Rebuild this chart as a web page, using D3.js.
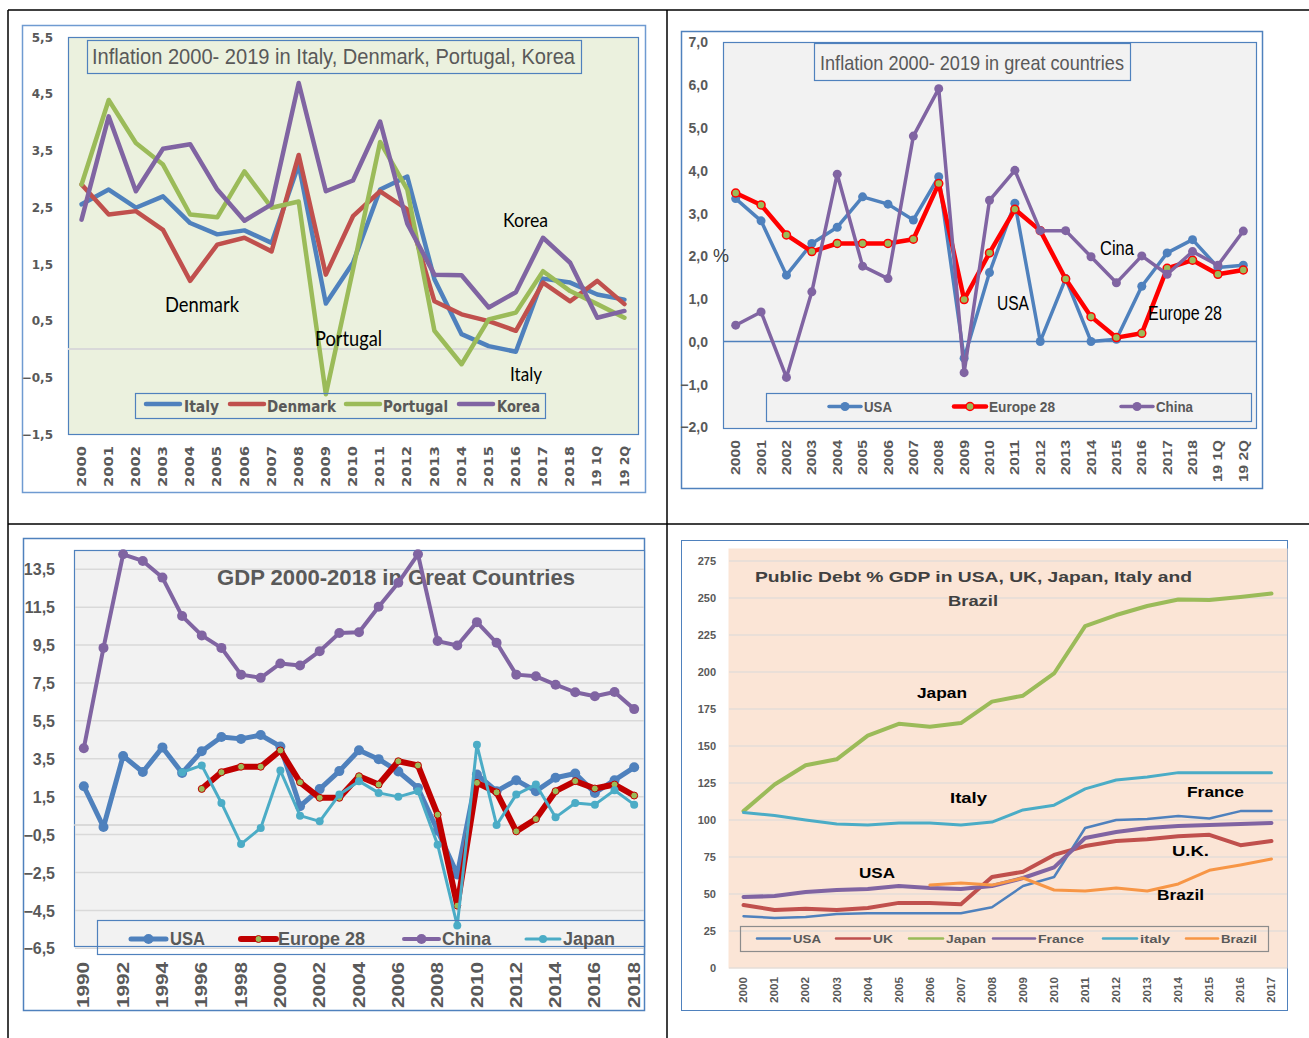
<!DOCTYPE html>
<html><head><meta charset="utf-8">
<script src="https://cdn.jsdelivr.net/npm/d3@7"></script>
<style>body{margin:0;background:#fff;}svg{display:block}</style>
</head><body>
<svg id="c" width="1309" height="1038"></svg>
<script>
// ---------- DATA ----------
// Panel 1: Inflation 2000-2019 Italy, Denmark, Portugal, Korea
const p1Categories = ["2000","2001","2002","2003","2004","2005","2006","2007","2008","2009","2010","2011","2012","2013","2014","2015","2016","2017","2018","19 1Q","19 2Q"];
const p1Italy    = [2.55,2.81,2.49,2.69,2.22,2.02,2.09,1.87,3.25,0.8,1.52,2.81,3.04,1.23,0.26,0.05,-0.05,1.24,1.17,0.96,0.87];
const p1Denmark  = [2.9,2.37,2.43,2.1,1.2,1.84,1.96,1.72,3.42,1.31,2.34,2.78,2.46,0.84,0.61,0.49,0.32,1.17,0.84,1.2,0.79];
const p1Portugal = [2.9,4.39,3.63,3.25,2.37,2.32,3.13,2.49,2.6,-0.8,1.4,3.65,2.81,0.32,-0.27,0.52,0.64,1.37,1.02,0.79,0.55];
const p1Korea    = [2.28,4.1,2.78,3.53,3.61,2.81,2.26,2.55,4.69,2.78,2.97,4.01,2.21,1.31,1.3,0.73,1.0,1.96,1.52,0.55,0.67];
const p1YTicks   = [5.5,4.5,3.5,2.5,1.5,0.5,-0.5,-1.5];

// Panel 2: Inflation 2000-2019 in great countries
const p2Categories = ["2000","2001","2002","2003","2004","2005","2006","2007","2008","2009","2010","2011","2012","2013","2014","2015","2016","2017","2018","19 1Q","19 2Q"];
const p2USA      = [3.34,2.82,1.55,2.29,2.67,3.38,3.21,2.84,3.85,-0.39,1.61,3.23,0.0,1.47,0.0,0.05,1.29,2.07,2.38,1.73,1.78];
const p2Europe28 = [3.47,3.19,2.49,2.1,2.29,2.29,2.29,2.39,3.69,0.98,2.07,3.09,2.59,1.46,0.58,0.09,0.19,1.71,1.9,1.57,1.67];
const p2China    = [0.38,0.69,-0.84,1.16,3.91,1.76,1.47,4.8,5.91,-0.73,3.3,4.0,2.59,2.59,1.98,1.37,2.0,1.57,2.1,1.78,2.58];
const p2YTicks   = [7,6,5,4,3,2,1,0,-1,-2];

// Panel 3: GDP growth 1990-2018
const p3Years = ["1990","1991","1992","1993","1994","1995","1996","1997","1998","1999","2000","2001","2002","2003","2004","2005","2006","2007","2008","2009","2010","2011","2012","2013","2014","2015","2016","2017","2018"];
const p3YearLabels = ["1990","1992","1994","1996","1998","2000","2002","2004","2006","2008","2010","2012","2014","2016","2018"];
const p3USA      = [2.05,-0.1,3.65,2.8,4.1,2.75,3.9,4.65,4.55,4.75,4.15,1.0,1.9,2.85,3.95,3.48,2.83,1.96,-0.3,-2.6,2.67,1.79,2.37,1.79,2.5,2.72,1.7,2.37,3.05];
const p3Europe28 = [null,null,null,null,null,null,1.91,2.79,3.08,3.08,3.94,2.26,1.44,1.44,2.58,2.14,3.37,3.15,0.55,-4.25,2.23,1.73,-0.33,0.32,1.79,2.32,1.93,2.14,1.56];
const p3China    = [4.06,9.35,14.29,13.94,13.06,11.03,10.01,9.35,7.94,7.77,8.53,8.42,9.18,10.14,10.18,11.52,12.79,14.29,9.71,9.48,10.71,9.62,7.94,7.85,7.41,7.01,6.8,7.02,6.12];
const p3Japan    = [null,null,null,null,null,2.79,3.15,1.17,-1.0,-0.15,2.88,0.5,0.2,1.61,2.32,1.7,1.49,1.79,-1.03,-5.3,4.24,0.0,1.61,2.14,0.41,1.17,1.08,1.84,1.08];
const p3YTicks   = [13.5,11.5,9.5,7.5,5.5,3.5,1.5,-0.5,-2.5,-4.5,-6.5];

// Panel 4: Public debt % GDP
const p4Years  = ["2000","2001","2002","2003","2004","2005","2006","2007","2008","2009","2010","2011","2012","2013","2014","2015","2016","2017"];
const p4USA    = [35,33.8,34.5,36.5,37,37,37,37,41,55.4,61.5,94.6,100,100.7,102.7,101,106,106];
const p4UK     = [42.6,39.2,40,39.2,40.5,44,44,43,61.5,65,76.4,82.4,85.8,87,89,90,83,85.8];
const p4Japan  = [106,124,137,141,157,165,163,165.5,180,184,199,231,238.5,244.6,249,248.6,250.7,253];
const p4France = [48,48.6,51.4,52.7,53.4,55.4,54,53.4,55.4,60.8,68,87.8,91.9,94.6,96,96.6,97.3,98];
const p4Italy  = [105,103,100,97.3,96.6,98,98,96.6,98.6,106.8,110,121,127,129,132,132,132,132];
const p4Brazil = [null,null,null,null,null,null,56,57.4,56,60.8,52.7,52,54,52,56.8,66,69.6,73.6];
const p4YTicks = [0,25,50,75,100,125,150,175,200,225,250,275];

// ---------- RENDER ----------
const svg = d3.select("#c");
const ARIAL = "'Liberation Sans', Arial, sans-serif";
const NARROW = "'Liberation Sans Narrow', 'Arial Narrow', 'Liberation Sans', sans-serif";
const HEAVY = "'DejaVu Sans', 'Liberation Sans', sans-serif";
const ROUND = "Lato, 'Noto Sans', sans-serif";
const GRAY = "#595959";
const comma1 = d => d3.format(".1f")(d).replace(".", ",");

function txt(g, s, x, y, o) {
  const t = g.append("text").attr("x", x).attr("y", y).text(s)
    .attr("font-family", o.font || ARIAL).attr("font-size", o.size || 12)
    .attr("font-weight", o.weight || "normal").attr("fill", o.fill || "#000")
    .attr("text-anchor", o.anchor || "start");
  if (o.baseline) t.attr("dominant-baseline", o.baseline);
  if (o.len) t.attr("textLength", o.len).attr("lengthAdjust", "spacingAndGlyphs");
  return t;
}

function drawPanel(o) {
  const g = svg.append("g");
  g.append("rect").attr("x", o.frame.x + 0.5).attr("y", o.frame.y + 0.5)
    .attr("width", o.frame.w).attr("height", o.frame.h)
    .attr("fill", "#fff").attr("stroke", o.frameStroke).attr("stroke-width", o.frameWidth || 1.5);
  g.append("rect").attr("x", o.plot.x + 0.5).attr("y", o.plot.y + 0.5)
    .attr("width", o.plot.w).attr("height", o.plot.h)
    .attr("fill", o.plotBg).attr("stroke", o.plotStroke || "none").attr("stroke-width", 1.2);

  const x = d3.scaleBand().domain(o.cats).range([o.plot.x, o.plot.x + o.plot.w]);
  const y = d3.scaleLinear().domain(o.yDomain).range(o.yRange);
  const cx = c => x(c) + x.bandwidth() / 2;

  if (o.grid) {
    g.append("g").selectAll("line").data(o.yTicks).join("line")
      .attr("x1", o.plot.x + 1).attr("x2", o.plot.x + o.plot.w)
      .attr("y1", d => y(d)).attr("y2", d => y(d))
      .attr("stroke", o.grid.color).attr("stroke-width", o.grid.width);
  }
  if (o.zero) {
    g.append("line").attr("x1", o.plot.x).attr("x2", o.plot.x + o.plot.w)
      .attr("y1", y(0)).attr("y2", y(0))
      .attr("stroke", o.zero.color).attr("stroke-width", o.zero.width);
  }

  // y axis labels
  const ya = g.append("g").attr("transform", `translate(${o.yLabel.x},0)`)
    .call(d3.axisLeft(y).tickValues(o.yTicks).tickSize(0).tickPadding(0).tickFormat(o.yFmt));
  ya.select(".domain").remove();
  ya.selectAll("text").attr("font-family", o.yLabel.font).attr("font-size", o.yLabel.size)
    .attr("font-weight", "bold").attr("fill", GRAY).attr("x", 0).attr("dy", "0.35em");

  // x axis labels (rotated)
  const xa = g.append("g").attr("transform", `translate(0,${o.xLabel.y})`)
    .call(d3.axisBottom(x).tickValues(o.xTicks || o.cats).tickSize(0).tickPadding(0));
  xa.select(".domain").remove();
  xa.selectAll("text").attr("transform", "rotate(-90)").attr("text-anchor", "end")
    .attr("x", 0).attr("y", 0).attr("dy", "0.35em")
    .attr("font-family", o.xLabel.font).attr("font-size", o.xLabel.size)
    .attr("font-weight", "bold").attr("fill", GRAY)
    .attr("textLength", d => o.xLabel.len(d)).attr("lengthAdjust", "spacingAndGlyphs");

  // title
  if (o.titleBox) {
    g.append("rect").attr("x", o.titleBox.x + 0.5).attr("y", o.titleBox.y + 0.5)
      .attr("width", o.titleBox.w).attr("height", o.titleBox.h)
      .attr("fill", o.plotBg).attr("stroke", "#4f81bd").attr("stroke-width", 1.2);
  }
  (o.titles || []).forEach(t => txt(g, t.text, t.x, t.y, t));

  // series
  o.series.forEach(s => {
    const pts = o.cats.map((c, i) => ({ c, v: s.values[i] }));
    const line = d3.line().defined(d => d.v != null).x(d => cx(d.c)).y(d => y(d.v));
    g.append("path").datum(pts).attr("d", line).attr("fill", "none")
      .attr("stroke", s.color).attr("stroke-width", s.width)
      .attr("stroke-linejoin", "round").attr("stroke-linecap", "round");
    if (s.marker) {
      g.append("g").selectAll("circle").data(pts.filter(d => d.v != null)).join("circle")
        .attr("cx", d => cx(d.c)).attr("cy", d => y(d.v)).attr("r", s.marker.r)
        .attr("fill", s.marker.fill).attr("stroke", s.marker.stroke || "none")
        .attr("stroke-width", s.marker.sw || 0);
    }
  });

  // legend
  if (o.legend) {
    const L = o.legend;
    g.append("rect").attr("x", L.box.x + 0.5).attr("y", L.box.y + 0.5)
      .attr("width", L.box.w).attr("height", L.box.h)
      .attr("fill", L.fill || "none").attr("stroke", L.stroke).attr("stroke-width", 1.2);
    L.items.forEach((it, i) => {
      const s = o.series[i];
      g.append("line").attr("x1", it.x1).attr("x2", it.x2).attr("y1", L.cy).attr("y2", L.cy)
        .attr("stroke", s.color).attr("stroke-width", L.lineWidth || s.width).attr("stroke-linecap", "round");
      if (s.marker && L.markers) {
        g.append("circle").attr("cx", (it.x1 + it.x2) / 2).attr("cy", L.cy).attr("r", s.marker.r)
          .attr("fill", s.marker.fill).attr("stroke", s.marker.stroke || "none").attr("stroke-width", s.marker.sw || 0);
      }
      txt(g, s.name, it.tx, L.ty, { font: L.font, size: L.size, weight: "bold", fill: GRAY, len: it.len });
    });
  }

  (o.notes || []).forEach(n => txt(g, n.text, n.x, n.y, n));
  return g;
}

// page table lines
const page = svg.append("g").attr("stroke", "#000").attr("stroke-width", 1.5);
page.append("line").attr("x1", 8).attr("x2", 1309).attr("y1", 10).attr("y2", 10);
page.append("line").attr("x1", 8).attr("x2", 8).attr("y1", 10).attr("y2", 1038);
page.append("line").attr("x1", 667).attr("x2", 667).attr("y1", 10).attr("y2", 1038);
page.append("line").attr("x1", 8).attr("x2", 1309).attr("y1", 524).attr("y2", 524);

// ---- Panel 1 ----
drawPanel({
  frame: { x: 22, y: 25, w: 623, h: 467 }, frameStroke: "#6f9bd1",
  plot: { x: 68, y: 37, w: 570, h: 397 }, plotBg: "#ebf1de", plotStroke: "#4f81bd",
  cats: p1Categories, yDomain: [-1.5, 5.5], yRange: [434, 37], yTicks: p1YTicks, yFmt: comma1,
  zero: { color: "#d9d9d9", width: 2 },
  yLabel: { x: 53, font: HEAVY, size: 12 },
  xLabel: { y: 446, font: HEAVY, size: 12, len: () => 41 },
  titleBox: { x: 87, y: 40, w: 494, h: 33 },
  titles: [{ text: "Inflation 2000- 2019 in Italy, Denmark, Portugal, Korea", x: 92, y: 64, font: NARROW, size: 22, fill: GRAY, len: 483 }],
  series: [
    { name: "Italy", values: p1Italy, color: "#4f81bd", width: 4.5 },
    { name: "Denmark", values: p1Denmark, color: "#c0504d", width: 4.5 },
    { name: "Portugal", values: p1Portugal, color: "#9bbb59", width: 4.5 },
    { name: "Korea", values: p1Korea, color: "#8064a2", width: 4.5 }
  ],
  legend: {
    box: { x: 135, y: 393, w: 410, h: 25 }, stroke: "#4f81bd", cy: 404, ty: 412, font: HEAVY, size: 15,
    items: [
      { x1: 146, x2: 180, tx: 184, len: 35 },
      { x1: 230, x2: 264, tx: 267, len: 69 },
      { x1: 346, x2: 380, tx: 383, len: 65 },
      { x1: 459, x2: 493, tx: 497, len: 43 }
    ]
  },
  notes: [
    { text: "Denmark", x: 165, y: 312, font: ROUND, size: 21, len: 74 },
    { text: "Portugal", x: 315, y: 346, font: ROUND, size: 21, len: 67 },
    { text: "Korea", x: 503, y: 227, font: ROUND, size: 20, len: 45 },
    { text: "Italy", x: 510, y: 381, font: ROUND, size: 20, len: 32 }
  ]
});

// ---- Panel 2 ----
const g2 = drawPanel({
  frame: { x: 681, y: 31, w: 581, h: 457 }, frameStroke: "#4f81bd",
  plot: { x: 723, y: 42, w: 533, h: 386 }, plotBg: "#f2f2f2", plotStroke: "#4f81bd",
  cats: p2Categories, yDomain: [-2, 7], yRange: [427, 42], yTicks: p2YTicks, yFmt: comma1,
  zero: { color: "#4f81bd", width: 1.5 },
  yLabel: { x: 708, font: ARIAL, size: 14 },
  xLabel: { y: 440, font: ARIAL, size: 13, len: d => d.length > 4 ? 42 : 35 },
  titleBox: { x: 814, y: 43, w: 316, h: 37 },
  titles: [{ text: "Inflation 2000- 2019 in great countries", x: 820, y: 70, font: NARROW, size: 21, fill: GRAY, len: 304 }],
  series: [
    { name: "USA", values: p2USA, color: "#4f81bd", width: 3.5, marker: { r: 4.5, fill: "#4f81bd" } },
    { name: "Europe 28", values: p2Europe28, color: "#ff0000", width: 4.5, marker: { r: 4, fill: "#9bbb59", stroke: "#ff0000", sw: 1.5 } },
    { name: "China", values: p2China, color: "#8064a2", width: 3.5, marker: { r: 4.5, fill: "#8064a2" } }
  ],
  legend: {
    box: { x: 766, y: 393, w: 485, h: 28 }, stroke: "#4f81bd", cy: 406.5, ty: 412, font: ARIAL, size: 15, markers: true,
    items: [
      { x1: 829, x2: 861, tx: 864, len: 28 },
      { x1: 954, x2: 986, tx: 989, len: 66 },
      { x1: 1121, x2: 1153, tx: 1156, len: 37 }
    ]
  },
  notes: [
    { text: "Cina", x: 1100, y: 255, font: NARROW, size: 20, len: 34 },
    { text: "USA", x: 997, y: 310, font: NARROW, size: 20, len: 32 },
    { text: "Europe 28", x: 1148, y: 320, font: NARROW, size: 20, len: 74 }
  ]
});
txt(g2, "%", 713, 262, { size: 18, fill: "#404040" });

// ---- Panel 3 ----
drawPanel({
  frame: { x: 23, y: 538, w: 621, h: 472 }, frameStroke: "#4f81bd",
  plot: { x: 74, y: 550, w: 570, h: 396 }, plotBg: "#f2f2f2", plotStroke: "#4f81bd",
  cats: p3Years, xTicks: p3YearLabels, yDomain: [-6.5, 14.5], yRange: [948.3, 550.3], yTicks: p3YTicks, yFmt: comma1,
  grid: { color: "#d9d9d9", width: 1.5 },
  zero: { color: "#d0d0d0", width: 1.5 },
  yLabel: { x: 55, font: ARIAL, size: 16 },
  xLabel: { y: 962, font: ARIAL, size: 16, len: () => 46 },
  titles: [{ text: "GDP 2000-2018 in Great Countries", x: 217, y: 585, font: ARIAL, size: 22, weight: "bold", fill: GRAY, len: 358 }],
  series: [
    { name: "USA", values: p3USA, color: "#4f81bd", width: 5, marker: { r: 5, fill: "#4f81bd" } },
    { name: "Europe 28", values: p3Europe28, color: "#c00000", width: 6, marker: { r: 3.5, fill: "#9bbb59", stroke: "#c00000", sw: 1 } },
    { name: "China", values: p3China, color: "#8064a2", width: 4, marker: { r: 5, fill: "#8064a2" } },
    { name: "Japan", values: p3Japan, color: "#4bacc6", width: 3, marker: { r: 4, fill: "#4bacc6" } }
  ],
  legend: {
    box: { x: 97, y: 920, w: 547, h: 34 }, stroke: "#4f81bd", cy: 939, ty: 945, font: ARIAL, size: 18, markers: true,
    items: [
      { x1: 131, x2: 166, tx: 170, len: 35 },
      { x1: 241, x2: 276, tx: 278, len: 87 },
      { x1: 404, x2: 439, tx: 442, len: 49 },
      { x1: 526, x2: 560, tx: 563, len: 52 }
    ]
  }
});

// ---- Panel 4 ----
drawPanel({
  frame: { x: 681, y: 540, w: 606, h: 470 }, frameStroke: "#4f81bd", frameWidth: 1,
  plot: { x: 728, y: 548, w: 559, h: 420 }, plotBg: "#fbe5d6",
  cats: p4Years, yDomain: [0, 275], yRange: [968, 561], yTicks: p4YTicks, yFmt: d3.format("d"),
  grid: { color: "#d9d9d9", width: 1 },
  yLabel: { x: 716, font: ARIAL, size: 11 },
  xLabel: { y: 977, font: ARIAL, size: 11, len: () => 26 },
  titles: [
    { text: "Public Debt % GDP in USA, UK, Japan, Italy and", x: 755, y: 582, size: 15, weight: "bold", fill: "#404040", len: 437 },
    { text: "Brazil", x: 973, y: 606, size: 15, weight: "bold", fill: "#404040", anchor: "middle", len: 50 }
  ],
  series: [
    { name: "USA", values: p4USA, color: "#4f81bd", width: 2.5 },
    { name: "UK", values: p4UK, color: "#c0504d", width: 4 },
    { name: "Japan", values: p4Japan, color: "#9bbb59", width: 4 },
    { name: "France", values: p4France, color: "#8064a2", width: 4 },
    { name: "italy", values: p4Italy, color: "#4bacc6", width: 3 },
    { name: "Brazil", values: p4Brazil, color: "#f79646", width: 3 }
  ],
  legend: {
    box: { x: 740, y: 926, w: 528, h: 25 }, stroke: "#8c8c8c", cy: 938.5, ty: 942.5, font: ARIAL, size: 11, lineWidth: 2.5,
    items: [
      { x1: 757, x2: 790, tx: 793, len: 28 },
      { x1: 836, x2: 870, tx: 873, len: 20 },
      { x1: 909, x2: 943, tx: 946, len: 40 },
      { x1: 993, x2: 1035, tx: 1038, len: 46 },
      { x1: 1103, x2: 1137, tx: 1140, len: 30 },
      { x1: 1186, x2: 1218, tx: 1221, len: 36 }
    ]
  },
  notes: [
    { text: "Japan", x: 917, y: 698, size: 15, weight: "bold", len: 50 },
    { text: "Italy", x: 950, y: 803, size: 15, weight: "bold", len: 37 },
    { text: "France", x: 1187, y: 797, size: 15, weight: "bold", len: 57 },
    { text: "USA", x: 859, y: 878, size: 15, weight: "bold", len: 36 },
    { text: "U.K.", x: 1172, y: 856, size: 15, weight: "bold", len: 37 },
    { text: "Brazil", x: 1157, y: 900, size: 15, weight: "bold", len: 47 }
  ]
});
</script>
</body></html>
